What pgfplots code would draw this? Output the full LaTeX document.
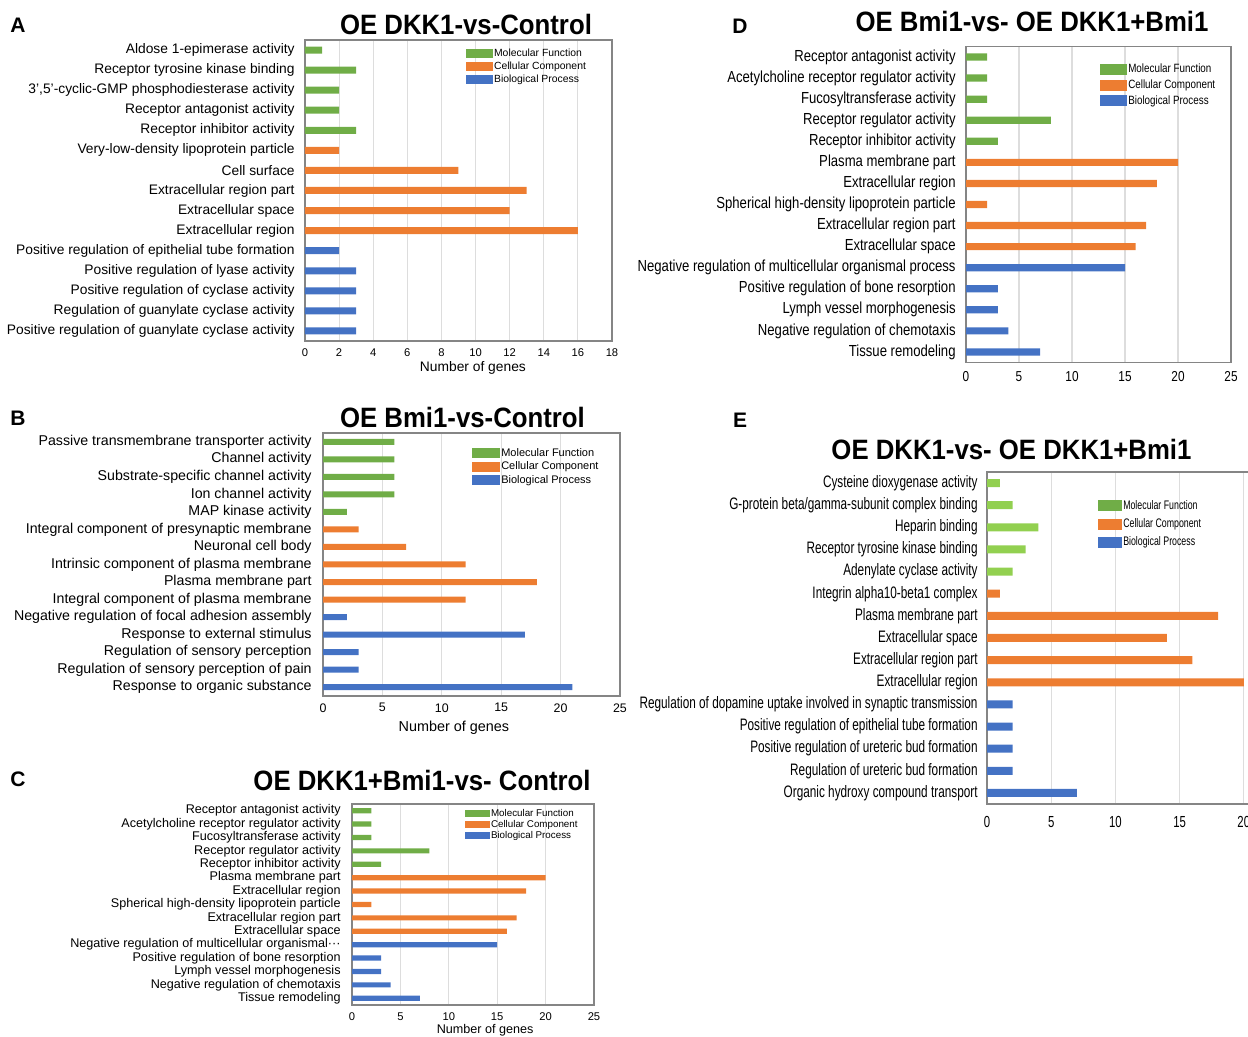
\documentclass[border=0pt]{standalone}
\usepackage{pgfplots}
\pgfplotsset{compat=1.18}
\usepackage{fontspec}
\setmainfont{Liberation Sans}
\newfontfamily\dfont[FakeStretch=0.82]{Liberation Sans}
\newfontfamily\efont[FakeStretch=0.71]{Liberation Sans}
\newfontfamily\tfont[FakeStretch=0.92]{Liberation Sans}
\definecolor{mfgreen}{HTML}{70AD47}
\definecolor{mflight}{HTML}{92D050}
\definecolor{ccorange}{HTML}{ED7D31}
\definecolor{bpblue}{HTML}{4472C4}
\definecolor{axisgray}{HTML}{858585}
\definecolor{gridgray}{HTML}{DDDDDD}
\pgfplotsset{
  goaxis/.style={
    scale only axis, y dir=reverse, ymin=-0.5, ymax=14.5, xmin=0, xmax=25,
    ytick={0,...,14}, major tick length=0pt,
    xmajorgrids, grid style={draw=gridgray, line width=0.6pt},
    axis line style={draw=axisgray, line width=0.7pt},
    /pgf/number format/assume math mode=true,
    yticklabel style={inner sep=0pt, anchor=east},
    xticklabel style={inner sep=0pt, anchor=north},
    legend cell align=left,
  },
  gobar/.style={xbar, bar shift=0pt, draw=none, forget plot},
}
\newcommand\titlefont{\tfont\fontsize{14}{16}\selectfont\bfseries}
\newcommand\letterfont{\fontsize{10.5}{12}\selectfont\bfseries}
\begin{document}
\begin{tikzpicture}
\path[use as bounding box] (0pt,0pt) rectangle (624pt,518.5pt);
\clip (0pt,0pt) rectangle (624pt,518.5pt);

% ---------------- Panel A ----------------
\node[font=\letterfont] at (9pt,506pt) {A};
\node[font=\titlefont] at (233pt,506pt) {OE DKK1-vs-Control};
\begin{axis}[goaxis, at={(152.5pt,348pt)}, anchor=south west,
  width=153.5pt, height=150.5pt, xmax=18, xtick={0,2,...,18},
  yticklabels={{Aldose 1-epimerase activity},{Receptor tyrosine kinase binding},{3',5'-cyclic-GMP phosphodiesterase activity},{Receptor antagonist activity},{Receptor inhibitor activity},{Very-low-density lipoprotein particle},{Cell surface},{Extracellular region part},{Extracellular space},{Extracellular region},{Positive regulation of epithelial tube formation},{Positive regulation of lyase activity},{Positive regulation of cyclase activity},{Regulation of guanylate cyclase activity},{Positive regulation of guanylate cyclase activity}},
  yticklabel style={font=\fontsize{6.9}{8}\selectfont, xshift=-5pt},
  xticklabel style={font=\fontsize{5.6}{6.5}\selectfont, yshift=-3.5pt},
  xlabel={Number of genes},
  xlabel style={at={(axis description cs:0.547,0)}, anchor=center, yshift=-13.5pt, font=\fontsize{6.9}{8}\selectfont},
  legend style={at={(0.524,0.975)}, anchor=north west, draw=none, fill=none, inner sep=0pt,
    font=\fontsize{5.2}{6}\selectfont, row sep=0.9pt,
    nodes={inner sep=0.4pt, text height=3.9pt, text depth=0.9pt}},
  legend image code/.code={\fill[#1] (0pt,-2.25pt) rectangle (13.5pt,2.25pt);},
]
\addplot[gobar, bar width=3.5pt, fill=mfgreen] coordinates {(1,0) (3,1) (2,2) (2,3) (3,4)};
\addplot[gobar, bar width=3.5pt, fill=ccorange] coordinates {(2,5) (9,6) (13,7) (12,8) (16,9)};
\addplot[gobar, bar width=3.5pt, fill=bpblue] coordinates {(2,10) (3,11) (3,12) (3,13) (3,14)};
\addlegendimage{fill=mfgreen, draw=none}\addlegendentry{Molecular Function}
\addlegendimage{fill=ccorange, draw=none}\addlegendentry{Cellular Component}
\addlegendimage{fill=bpblue, draw=none}\addlegendentry{Biological Process}
\end{axis}

% ---------------- Panel B ----------------
\node[font=\letterfont] at (9pt,309.5pt) {B};
\node[font=\titlefont] at (231.25pt,309.5pt) {OE Bmi1-vs-Control};
\begin{axis}[goaxis, at={(161.5pt,170.5pt)}, anchor=south west,
  width=148.5pt, height=131.5pt, xtick={0,5,...,25},
  yticklabels={{Passive transmembrane transporter activity},{Channel activity},{Substrate-specific channel activity},{Ion channel activity},{MAP kinase activity},{Integral component of presynaptic membrane},{Neuronal cell body},{Intrinsic component of plasma membrane},{Plasma membrane part},{Integral component of plasma membrane},{Negative regulation of focal adhesion assembly},{Response to external stimulus},{Regulation of sensory perception},{Regulation of sensory perception of pain},{Response to organic substance}},
  yticklabel style={font=\fontsize{7.1}{8}\selectfont, xshift=-5.5pt},
  xticklabel style={font=\fontsize{6.2}{7}\selectfont, yshift=-3.5pt},
  xlabel={Number of genes},
  xlabel style={at={(axis description cs:0.441,0)}, anchor=center, yshift=-16pt, font=\fontsize{7.2}{8}\selectfont},
  legend style={at={(0.502,0.947)}, anchor=north west, draw=none, fill=none, inner sep=0pt,
    font=\fontsize{5.5}{6}\selectfont, row sep=0.9pt,
    nodes={inner sep=0.4pt, text height=4.1pt, text depth=1pt}},
  legend image code/.code={\fill[#1] (0pt,-2.5pt) rectangle (14pt,2.5pt);},
]
\addplot[gobar, bar width=3pt, fill=mfgreen] coordinates {(6,0) (6,1) (6,2) (6,3) (2,4)};
\addplot[gobar, bar width=3pt, fill=ccorange] coordinates {(3,5) (7,6) (12,7) (18,8) (12,9)};
\addplot[gobar, bar width=3pt, fill=bpblue] coordinates {(2,10) (17,11) (3,12) (3,13) (21,14)};
\addlegendimage{fill=mfgreen, draw=none}\addlegendentry{Molecular Function}
\addlegendimage{fill=ccorange, draw=none}\addlegendentry{Cellular Component}
\addlegendimage{fill=bpblue, draw=none}\addlegendentry{Biological Process}
\end{axis}

% ---------------- Panel C ----------------
\node[font=\letterfont] at (9pt,129pt) {C};
\node[font=\titlefont] at (211pt,128pt) {OE DKK1+Bmi1-vs- Control};
\begin{axis}[goaxis, at={(176pt,16pt)}, anchor=south west,
  width=121pt, height=100.5pt, xtick={0,5,...,25},
  yticklabels={{Receptor antagonist activity},{Acetylcholine receptor regulator activity},{Fucosyltransferase activity},{Receptor regulator activity},{Receptor inhibitor activity},{Plasma membrane part},{Extracellular region},{Spherical high-density lipoprotein particle},{Extracellular region part},{Extracellular space},{Negative regulation of multicellular organismal···},{Positive regulation of bone resorption},{Lymph vessel morphogenesis},{Negative regulation of chemotaxis},{Tissue remodeling}},
  yticklabel style={font=\fontsize{6.3}{7}\selectfont, xshift=-5.5pt},
  xticklabel style={font=\fontsize{5.6}{6.5}\selectfont, yshift=-3.5pt},
  xlabel={Number of genes},
  xlabel style={at={(axis description cs:0.55,0)}, anchor=center, yshift=-12.5pt, font=\fontsize{6.3}{7}\selectfont},
  legend style={at={(0.467,0.98)}, anchor=north west, draw=none, fill=none, inner sep=0pt,
    font=\fontsize{4.9}{5.5}\selectfont, row sep=0.5pt,
    nodes={inner sep=0.3pt, text height=3.6pt, text depth=0.8pt}},
  legend image code/.code={\fill[#1] (0pt,-1.9pt) rectangle (12.5pt,1.9pt);},
]
\addplot[gobar, bar width=2.6pt, fill=mfgreen] coordinates {(2,0) (2,1) (2,2) (8,3) (3,4)};
\addplot[gobar, bar width=2.6pt, fill=ccorange] coordinates {(20,5) (18,6) (2,7) (17,8) (16,9)};
\addplot[gobar, bar width=2.6pt, fill=bpblue] coordinates {(15,10) (3,11) (3,12) (4,13) (7,14)};
\addlegendimage{fill=mfgreen, draw=none}\addlegendentry{Molecular Function}
\addlegendimage{fill=ccorange, draw=none}\addlegendentry{Cellular Component}
\addlegendimage{fill=bpblue, draw=none}\addlegendentry{Biological Process}
\end{axis}

% ---------------- Panel D ----------------
\node[font=\letterfont] at (370pt,505.5pt) {D};
\node[font=\titlefont] at (516pt,507.5pt) {OE Bmi1-vs- OE DKK1+Bmi1};
\begin{axis}[goaxis, at={(483pt,337.25pt)}, anchor=south west,
  width=132.5pt, height=158pt, xtick={0,5,...,25},
  yticklabels={{Receptor antagonist activity},{Acetylcholine receptor regulator activity},{Fucosyltransferase activity},{Receptor regulator activity},{Receptor inhibitor activity},{Plasma membrane part},{Extracellular region},{Spherical high-density lipoprotein particle},{Extracellular region part},{Extracellular space},{Negative regulation of multicellular organismal process},{Positive regulation of bone resorption},{Lymph vessel morphogenesis},{Negative regulation of chemotaxis},{Tissue remodeling}},
  yticklabel style={font=\dfont\fontsize{8}{9}\selectfont, xshift=-5pt},
  xticklabel style={font=\dfont\fontsize{7.2}{8}\selectfont, yshift=-4.5pt},
  legend style={at={(0.506,0.95)}, anchor=north west, draw=none, fill=none, inner sep=0pt,
    font=\dfont\fontsize{6}{7}\selectfont, row sep=1.2pt,
    nodes={inner sep=0.4pt, text height=4.6pt, text depth=1.3pt}},
  legend image code/.code={\fill[#1] (0pt,-2.75pt) rectangle (13.5pt,2.75pt);},
]
\addplot[gobar, bar width=3.6pt, fill=mfgreen] coordinates {(2,0) (2,1) (2,2) (8,3) (3,4)};
\addplot[gobar, bar width=3.6pt, fill=ccorange] coordinates {(20,5) (18,6) (2,7) (17,8) (16,9)};
\addplot[gobar, bar width=3.6pt, fill=bpblue] coordinates {(15,10) (3,11) (3,12) (4,13) (7,14)};
\addlegendimage{fill=mfgreen, draw=none}\addlegendentry{Molecular Function}
\addlegendimage{fill=ccorange, draw=none}\addlegendentry{Cellular Component}
\addlegendimage{fill=bpblue, draw=none}\addlegendentry{Biological Process}
\end{axis}

% ---------------- Panel E ----------------
\node[font=\letterfont] at (370pt,308.5pt) {E};
\node[font=\titlefont] at (505.75pt,293.5pt) {OE DKK1-vs- OE DKK1+Bmi1};
\begin{axis}[goaxis, at={(493.5pt,116.5pt)}, anchor=south west,
  width=160.5pt, height=166pt, xtick={0,5,...,25},
  yticklabels={{Cysteine dioxygenase activity},{G-protein beta/gamma-subunit complex binding},{Heparin binding},{Receptor tyrosine kinase binding},{Adenylate cyclase activity},{Integrin alpha10-beta1 complex},{Plasma membrane part},{Extracellular space},{Extracellular region part},{Extracellular region},{Regulation of dopamine uptake involved in synaptic transmission},{Positive regulation of epithelial tube formation},{Positive regulation of ureteric bud formation},{Regulation of ureteric bud formation},{Organic hydroxy compound transport}},
  yticklabel style={font=\efont\fontsize{8.3}{9}\selectfont, xshift=-4.5pt},
  xticklabel style={font=\efont\fontsize{8}{9}\selectfont, yshift=-6pt},
  legend style={at={(0.346,0.92)}, anchor=north west, draw=none, fill=none, inner sep=0pt,
    font=\efont\fontsize{6.2}{7}\selectfont, row sep=2.2pt,
    nodes={inner sep=0.4pt, text height=4.8pt, text depth=1.3pt}},
  legend image code/.code={\fill[#1] (0pt,-2.75pt) rectangle (12pt,2.75pt);},
]
\addplot[gobar, bar width=4pt, fill=mflight] coordinates {(1,0) (2,1) (4,2) (3,3) (2,4)};
\addplot[gobar, bar width=4pt, fill=ccorange] coordinates {(1,5) (18,6) (14,7) (16,8) (20,9)};
\addplot[gobar, bar width=4pt, fill=bpblue] coordinates {(2,10) (2,11) (2,12) (2,13) (7,14)};
\addlegendimage{fill=mfgreen, draw=none}\addlegendentry{Molecular Function}
\addlegendimage{fill=ccorange, draw=none}\addlegendentry{Cellular Component}
\addlegendimage{fill=bpblue, draw=none}\addlegendentry{Biological Process}
\end{axis}
\end{tikzpicture}
\end{document}
